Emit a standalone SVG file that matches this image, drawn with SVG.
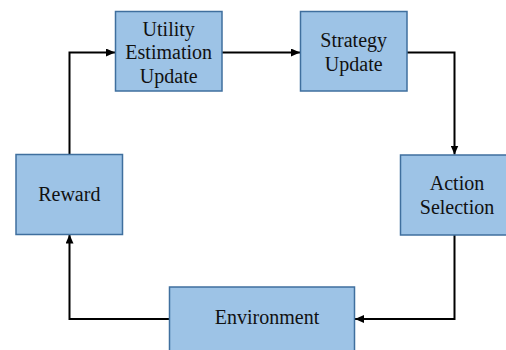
<svg xmlns="http://www.w3.org/2000/svg" width="506" height="350" viewBox="0 0 506 350">
<style>
.box{fill:#9DC3E6;stroke:#3F6F9E;stroke-width:1.5}
.lbl{font-family:'Liberation Serif','DejaVu Serif',serif;font-size:20px;fill:#111;text-anchor:middle}
.conn{fill:none;stroke:#000;stroke-width:2;marker-end:url(#arr)}
</style>
<defs>
<marker id="arr" markerWidth="10" markerHeight="8" refX="9" refY="4" orient="auto" markerUnits="userSpaceOnUse">
<path d="M0,0 L9,4 L0,8 Z" fill="#000"/>
</marker>
</defs>
<rect width="506" height="350" fill="#fff"/>
<g id="connectors">
<path class="conn" d="M69.5,154 V52.5 H115"/>
<path class="conn" d="M222,52.5 H300"/>
<path class="conn" d="M407,52.5 H454.5 V154.5"/>
<path class="conn" d="M454.5,235 V319 H355"/>
<path class="conn" d="M169,319 H69.5 V234.5"/>
</g>
<g id="utility">
<rect class="box" x="115.5" y="11.5" width="106.5" height="79.5"/>
<text class="lbl" x="168.7" y="35.5">Utility</text>
<text class="lbl" x="168.7" y="59">Estimation</text>
<text class="lbl" x="168.7" y="82.5">Update</text>
</g>
<g id="strategy">
<rect class="box" x="300.5" y="11.5" width="106.5" height="79.5"/>
<text class="lbl" x="353.7" y="46.5">Strategy</text>
<text class="lbl" x="353.7" y="70.5">Update</text>
</g>
<g id="action">
<rect class="box" x="400.5" y="155" width="108" height="80"/>
<text class="lbl" x="457" y="190">Action</text>
<text class="lbl" x="457" y="214">Selection</text>
</g>
<g id="environment">
<rect class="box" x="169.5" y="287" width="185" height="66"/>
<text class="lbl" x="267" y="324">Environment</text>
</g>
<g id="reward">
<rect class="box" x="16" y="154.5" width="106.5" height="80"/>
<text class="lbl" x="69.3" y="201">Reward</text>
</g>
</svg>
